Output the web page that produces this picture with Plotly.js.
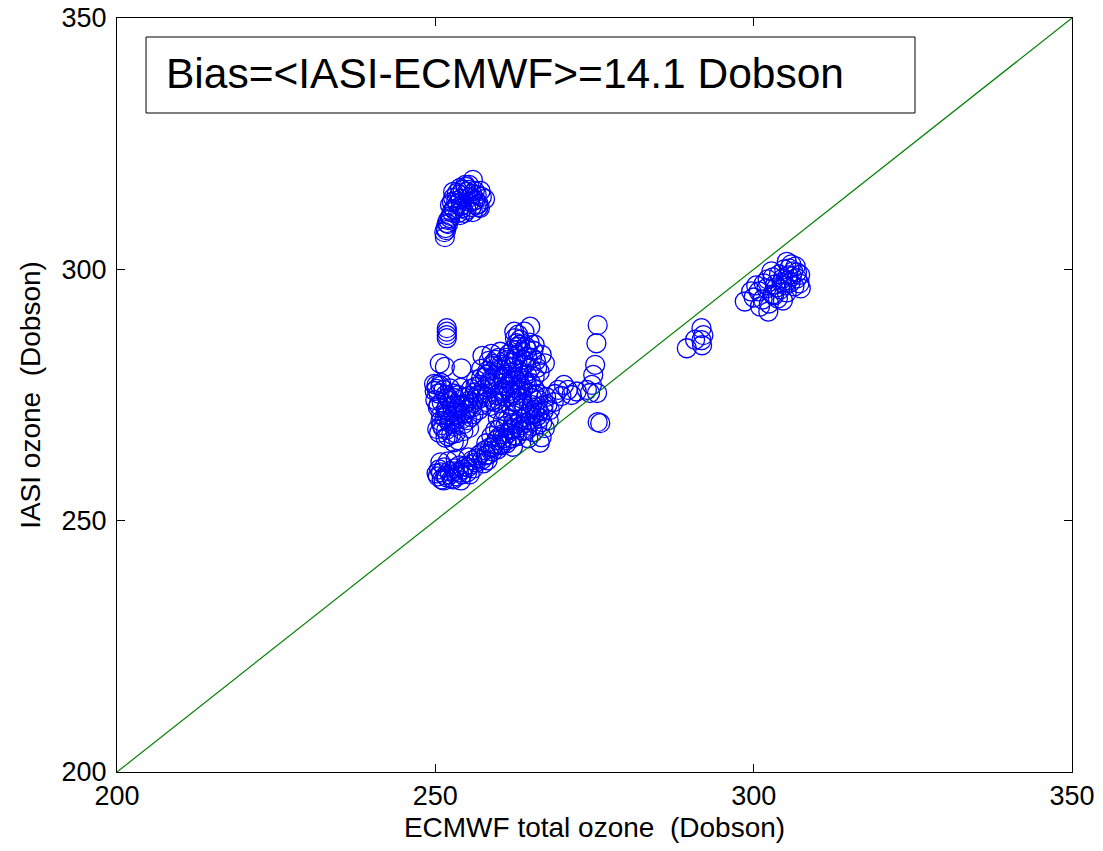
<!DOCTYPE html>
<html><head><meta charset="utf-8">
<script src="https://cdn.plot.ly/plotly-3.0.1.min.js"></script>
<style>html,body{margin:0;padding:0;background:#fff}#chart{width:1103px;height:851px}</style>
</head><body><div id="chart"></div>
<script>
// IASI vs ECMWF total ozone (Dobson)
var topX = [251.5,251.4,251.6,251.8,252.3,252.6,252.3,252.8,253.4,253.9,255.9,255.0,256.5,257.3,255.4,256.5,254.3,255.9,253.9,257.0,252.8,254.7,253.5,254.0,255.2,256.0,256.8,253.0,254.6,255.7,257.1,252.0,257.8,
            251.7,252.0,252.4,252.9,253.3,253.8,254.3,254.8,255.3,255.8,256.3,256.8,254.0,254.9,255.6,256.2,253.6,252.6];
var topY = [306.4,307.4,308.2,309.2,310.2,311.4,312.8,314.2,315.2,316.2,317.8,315.4,314.8,314.4,313.4,312.8,312.2,311.4,310.8,312.2,315.4,316.8,313.0,314.0,315.8,313.6,313.0,311.8,311.2,312.4,315.6,309.8,314.0,
            307.8,309.0,310.6,312.0,313.6,314.8,315.8,316.4,316.8,315.0,313.8,312.4,312.6,311.8,314.4,315.6,311.2,313.4];

var leftX = [251.8,251.8,251.8,251.8,250.7,251.5,254.1,250.2,251.3,252.3,250.5,252.8,250.0,251.0,252.0,250.4,251.6,253.2,250.8,249.9,252.6,
             250.2,250.9,251.6,252.3,253.0,250.5,251.8,249.8];
var leftY = [288.3,287.6,286.9,286.3,281.3,280.6,280.3,277.0,276.0,276.3,275.3,275.3,274.0,273.5,274.5,272.5,272.0,273.2,276.8,275.8,272.8,
             276.2,277.4,275.0,273.8,274.4,273.0,271.0,277.2];

var armX = [250.8,251.5,252.2,252.8,253.5,251.9,253.0,254.2,254.8,253.8,255.2,255.8,254.5,256.2,255.6,256.8,257.0,256.4,257.5,257.8,258.2,257.2,258.6,259.0,259.5,258.4,259.8,260.3,257.4,258.8,260.2,261.2,260.6,259.3,255.0,256.0,257.2,258.0,253.6,254.0,250.6,251.6,252.5,253.6,254.4,251.2,252.9,255.3,
            250.3,251.0,251.7,252.4,253.1,253.8,254.5,255.2,255.9,256.6,257.3,258.0,258.7,259.4,260.1,250.9,251.8,252.7,253.6,254.5,255.4,256.3,257.2,258.1,259.0,259.9,252.0,253.2,254.4,255.6,256.8,258.0];
var armY = [269.8,270.5,269.5,270.8,271.5,271.8,268.8,270.2,272.0,273.0,273.8,272.5,274.5,275.5,276.2,274.2,277.0,278.0,276.0,278.5,279.8,280.2,277.4,280.8,282.0,281.8,279.4,281.0,282.8,283.2,283.6,282.4,278.4,276.8,270.0,271.2,273.0,274.6,275.0,276.4,267.5,266.5,267.2,266.0,267.8,268.4,265.6,268.4,
            268.2,269.0,268.0,269.8,270.0,271.0,271.2,272.4,273.4,274.8,275.2,276.6,278.0,279.0,280.2,271.0,272.6,271.6,272.2,273.2,274.8,276.6,278.4,279.0,281.2,282.4,266.8,267.4,269.2,270.6,272.0,273.6];

var blobX = [264.9,263.3,263.3,262.2,262.5,262.8,261.6,262.6,263.6,264.4,265.4,264.0,265.0,263.0,262.0,261.2,264.4,265.8,266.7,267.2,266.4,263.8,265.6,262.6,264.2,263.0,264.0,
             262.0,262.8,263.6,264.4,265.2,266.0,263.2,264.8,265.6,262.4,261.4,263.0];
var blobY = [288.6,286.0,285.0,284.0,286.3,285.3,283.2,282.2,283.6,282.6,283.8,281.0,280.4,280.0,279.4,280.8,279.0,281.8,283.0,281.3,279.6,278.2,278.6,278.0,284.6,287.0,287.6,
             281.4,283.0,282.0,284.0,282.4,280.4,279.2,285.4,285.0,287.6,282.0,284.6];

var bandX = [250.4,251.0,251.8,252.6,253.4,254.2,255.0,250.6,251.4,252.2,253.0,253.8,254.6,255.6,256.4,250.8,252.0,253.2,255.2,256.8,257.4,257.8,258.4,258.0,259.0,259.6,258.8,260.2,260.6,261.2,261.8,261.0,262.4,262.2,263.0,263.4,263.8,264.2,264.6,265.0,265.6,266.0,266.4,267.0,267.6,268.0,268.6,267.4,266.2,265.2,264.0,263.0,262.2,261.4,260.6,260.0,259.4,259.8,260.8,261.8,262.6,263.6,264.6,265.6,261.0,260.2,259.6,261.6,262.6,263.4,260.4,260.8,261.8,262.2,266.4,266.7,264.6,265.4,267.2,266.0,267.8,
             250.2,250.9,251.6,252.3,253.0,253.7,254.4,255.1,255.8,256.5,257.2,257.9,258.6,259.3,260.0,260.7,261.4,262.1,262.8,263.5,264.2,264.9,265.6,266.3,267.0,251.3,252.8,254.0,255.4,256.0,257.6,258.2,259.0,259.8,260.4,261.2,262.0,262.8,263.6,264.4,265.2,266.0,266.8];
var bandY = [258.8,258.2,258.6,258.4,258.8,259.2,259.6,260.2,260.6,259.8,260.4,261.0,260.8,261.2,261.6,261.6,261.8,262.2,262.6,263.0,262.2,264.0,263.2,265.4,264.6,266.0,266.8,265.2,267.2,266.0,268.0,268.8,267.0,269.4,268.4,270.2,267.8,269.4,271.4,270.0,271.2,272.6,270.4,271.8,273.0,272.0,273.6,274.6,274.0,273.0,272.4,271.8,271.0,270.2,269.8,268.2,268.0,270.4,271.8,272.8,273.8,274.8,275.4,276.2,274.6,273.4,272.2,275.8,276.4,277.0,276.0,277.4,277.8,264.7,265.5,266.6,266.4,267.6,268.4,269.0,270.0,
             259.4,259.6,259.0,259.2,259.8,259.6,260.2,260.6,262.0,262.4,263.4,263.0,264.6,265.2,266.6,266.4,267.4,268.2,269.2,269.0,270.6,271.0,272.0,271.6,273.0,258.0,258.2,258.0,259.2,260.4,261.4,262.0,263.8,264.2,265.0,265.4,266.4,266.8,268.0,268.0,268.8,270.8,269.6];

var coreX = [259.0,259.6,260.2,260.8,261.4,262.0,262.6,263.2,263.8,264.4,265.0,265.6,258.6,259.4,260.6,261.8,263.0,264.2,262.4,263.8,265.2,266.2,261.0,262.2];
var coreY = [274.0,275.0,274.8,276.0,276.6,275.4,275.0,276.0,276.2,277.0,277.4,275.0,272.8,273.6,275.6,277.2,278.6,277.8,273.6,273.2,274.4,275.2,279.0,280.6];

var tailX = [269.3,270.8,272.2,273.8,274.3,269.8,271.4,270.2,268.8,275.4,275.5,275.3,275.1,274.8,274.6,275.5,275.9];
var tailY = [276.0,276.0,275.7,276.0,275.4,274.8,275.0,277.0,275.2,275.4,288.9,285.3,281.0,279.0,277.0,269.6,269.4];

var midX = [289.5,290.8,291.8,292.1,291.8,291.9];
var midY = [284.3,286.0,288.3,286.9,285.9,284.9];

var rightX = [298.6,302.3,305.2,307.3,300.0,300.8,301.4,302.0,302.4,303.0,303.4,303.8,304.2,304.6,305.0,305.4,305.8,306.2,306.4,306.8,307.2,305.6,304.0,303.0,301.6,300.4,302.8,306.6,307.4,304.6,301.0,299.6,302.2,305.2,
              303.6,304.4,305.4,306.0,306.8,304.8,303.2,305.9];
var rightY = [293.6,291.6,301.5,298.9,294.4,295.6,294.0,296.2,293.2,295.0,297.0,294.2,296.0,298.2,296.8,298.8,297.4,299.6,296.6,298.2,297.2,300.2,299.0,298.4,297.2,296.8,299.6,300.6,296.2,293.8,292.6,295.6,298.0,295.4,
              296.4,297.4,297.8,298.6,299.4,300.0,294.8,301.0];

var lineX = [200, 350];
var lineY = [200, 350];

var xTicks = [200, 250, 300, 350];
var yTicks = [200, 250, 300, 350];

var ecmwf = [].concat(topX, leftX, armX, blobX, bandX, coreX, tailX, midX, rightX);
var iasi  = [].concat(topY, leftY, armY, blobY, bandY, coreY, tailY, midY, rightY);

var biasText = 'Bias=&lt;IASI-ECMWF&gt;=14.1 Dobson';
var xTitle = 'ECMWF total ozone\u00A0\u00A0(Dobson)';
var yTitle = 'IASI ozone\u00A0\u00A0(Dobson)';

var font = 'Liberation Sans, Arial, Helvetica, sans-serif';

var traces = [
  {x: ecmwf, y: iasi, type: 'scatter', mode: 'markers',
   marker: {symbol: 'circle-open', size: 19, color: '#0000ff', line: {width: 1.3, color: '#0000ff'}},
   hoverinfo: 'x+y', showlegend: false},
  {x: lineX, y: lineY, type: 'scatter', mode: 'lines',
   line: {color: '#008000', width: 1.2}, showlegend: false}
];

var axisCommon = {
  showgrid: false, zeroline: false, showline: true, linecolor: '#000', linewidth: 1,
  mirror: 'ticks', ticks: 'inside', ticklen: 8, tickwidth: 1, tickcolor: '#000',
  tickfont: {family: font, size: 27, color: '#000'}, tickmode: 'array'
};

var layout = {
  width: 1103, height: 851,
  margin: {l: 117, r: 31, t: 18, b: 79, pad: 0},
  paper_bgcolor: '#fff', plot_bgcolor: '#fff',
  xaxis: Object.assign({}, axisCommon, {range: [200, 350], tickvals: xTicks, ticktext: xTicks.map(String),
    title: {text: xTitle, font: {family: font, size: 28, color: '#000'}, standoff: 6}}),
  yaxis: Object.assign({}, axisCommon, {range: [200, 350], tickvals: yTicks, ticktext: yTicks.map(String),
    ticklabelstandoff: 4,
    title: {text: yTitle, font: {family: font, size: 28, color: '#000'}, standoff: 12}}),
  shapes: [{type: 'rect', xref: 'paper', yref: 'paper', x0: 0.0304, x1: 0.8356, y0: 0.874, y1: 0.9748,
    line: {color: '#000', width: 1}, fillcolor: '#fff', layer: 'above'}],
  annotations: [{xref: 'paper', yref: 'paper', x: 0.0492, y: 0.9265, xanchor: 'left', yanchor: 'middle',
    text: biasText, showarrow: false, font: {family: font, size: 42.5, color: '#000'}}]
};

Plotly.newPlot('chart', traces, layout, {displayModeBar: false, staticPlot: true});
</script>
</body></html>
